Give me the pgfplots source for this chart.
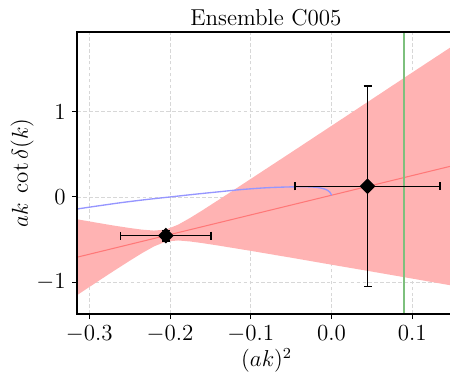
\documentclass[border=0pt]{standalone}
\usepackage{pgfplots}
\pgfplotsset{compat=1.18}
\usepgfplotslibrary{fillbetween}
\definecolor{bandred}{RGB}{255,179,179}
\definecolor{linered}{RGB}{255,120,120}
\definecolor{curveblue}{RGB}{150,150,255}
\definecolor{vgreen}{RGB}{125,192,125}
\definecolor{gridgray}{RGB}{215,215,215}
\newcommand{\bigfont}{\fontsize{12}{14.4}\selectfont}
\begin{document}
\begin{tikzpicture}
\begin{axis}[
  scale only axis,
  width=194.45pt, height=146.97pt,
  xmin=-0.3149, xmax=0.1467,
  ymin=-1.372, ymax=1.93,
  xtick={-0.3,-0.2,-0.1,0,0.1},
  ytick={-1,0,1},
  xtick pos=bottom, ytick pos=left,
  tick align=outside,
  major tick length=2.61pt,
  tick style={black, line width=0.55pt},
  axis line style={draw=none},
  grid=major,
  grid style={gridgray, dash pattern=on 1.9pt off 1.2pt, line width=0.35pt},
  xticklabel style={font=\bigfont, /pgf/number format/fixed, /pgf/number format/fixed zerofill, /pgf/number format/precision=1},
  yticklabel style={font=\bigfont},
  xlabel={$(ak)^2$},
  xlabel style={font=\bigfont, at={(axis description cs:0.508,-0.187)}, anchor=base},
  ylabel={$ak\;\cot\delta(k)$},
  ylabel style={font=\bigfont, at={(axis description cs:-0.1323,0.5)}, anchor=base},
]
\addplot[name path=up, draw=none, forget plot] coordinates {
(-0.315,-0.262) (-0.29,-0.303) (-0.27,-0.335) (-0.25,-0.364) (-0.235,-0.383) (-0.22,-0.394)
(-0.2053,-0.383) (-0.19,-0.325) (-0.175,-0.245) (-0.16,-0.157) (-0.14,-0.035)
(-0.12,0.088) (-0.10,0.212) (-0.05,0.522) (0.00,0.834) (0.05,1.146) (0.10,1.459) (0.15,1.770)};
\addplot[name path=lo, draw=none, forget plot] coordinates {
(-0.315,-1.150) (-0.29,-0.993) (-0.27,-0.869) (-0.25,-0.748) (-0.235,-0.660) (-0.22,-0.580)
(-0.2053,-0.523) (-0.19,-0.510) (-0.175,-0.522) (-0.16,-0.541) (-0.14,-0.570)
(-0.12,-0.601) (-0.10,-0.632) (-0.05,-0.712) (0.00,-0.794) (0.05,-0.875) (0.10,-0.957) (0.15,-1.040)};
\addplot[fill=bandred, draw=none] fill between[of=up and lo];
\addplot[linered, line width=0.55pt] coordinates {(-0.315,-0.706) (0.15,0.366)};
\addplot[curveblue, line width=0.7pt, smooth] coordinates {
(-0.315,-0.141) (-0.29,-0.106) (-0.26,-0.066) (-0.23,-0.031) (-0.2,0.0) (-0.17,0.031)
(-0.14,0.060) (-0.11,0.088) (-0.08,0.108) (-0.05,0.118) (-0.03,0.119) (-0.018,0.112)
(-0.01,0.097) (-0.005,0.078) (-0.002,0.055) (0,0.02)};
\addplot[draw=vgreen, line width=1.0pt] coordinates {(0.0892,-2) (0.0892,3)};
\addplot[black, line width=0.8pt, only marks, mark=square*, mark size=2.5pt,
  mark options={rotate=45, fill=black},
  error bars/.cd, x dir=both, x explicit, y dir=both, y explicit,
  error bar style={line width=0.8pt, black},
  error mark options={rotate=90, mark size=2.09pt, line width=0.8pt, black}]
  coordinates {
  (-0.2053,-0.453) +- (0.056,0.061)
  (0.0446,0.125) +- (0.0897,1.174)
};
\end{axis}
\draw[line width=0.9pt, line join=miter] (current axis.north east) -- (current axis.north west) -- (current axis.south west) -- (current axis.south east);
\node[anchor=base, font=\bigfont, inner sep=0pt] at ([xshift=1.17pt, yshift=3.29pt]current axis.north) {Ensemble C005};
\pgfresetboundingbox
\path ([xshift=-40.33pt,yshift=-32.35pt]current axis.south west) rectangle ([yshift=16.85pt]current axis.north east);
\end{tikzpicture}
\end{document}
